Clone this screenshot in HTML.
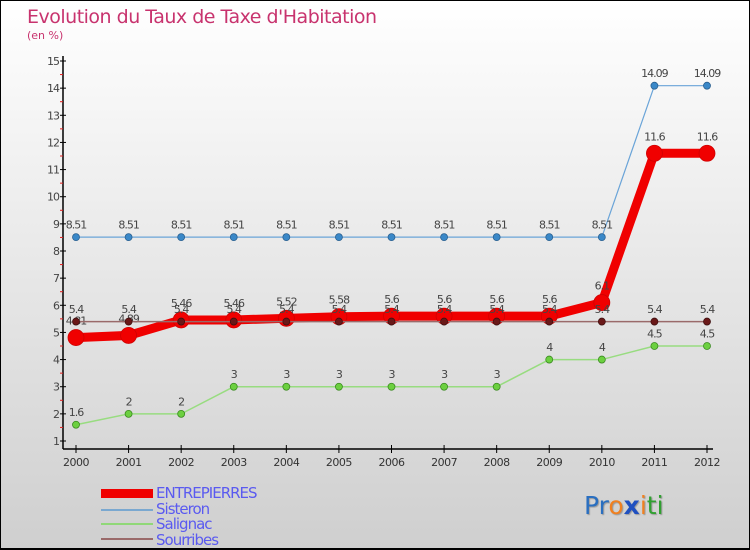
<!DOCTYPE html>
<html><head><meta charset="utf-8"><style>
body{margin:0}
#wrap{position:relative;width:750px;height:550px;box-sizing:border-box;border:1px solid #000;border-bottom:2px solid #000;background:linear-gradient(#ffffff,#cfcfcf);font-family:"DejaVu Sans","Liberation Sans",sans-serif;overflow:hidden}
.t{position:absolute;color:#c8336e}
.leg{position:absolute;left:155px;color:#5a5af0;font-size:15px;letter-spacing:-1px;line-height:15px}
.sw{position:absolute;left:100px;width:52px}
</style></head><body>
<div id="wrap">
<div class="t" style="left:26px;top:5px;font-size:19px;letter-spacing:-0.5px">Evolution du Taux de Taxe d'Habitation</div>
<div class="t" style="left:26px;top:28px;font-size:11px">(en %)</div>
<svg id="c" width="750" height="550" style="position:absolute;left:0;top:0"></svg>
<div class="sw" style="top:488px;height:9px;background:#f00000"></div>
<div class="sw" style="top:508px;height:2px;background:#7aa8d0"></div>
<div class="sw" style="top:522px;height:2px;background:#90d878"></div>
<div class="sw" style="top:537px;height:2px;background:#9a6a6a"></div>
<div class="leg" style="top:485px">ENTREPIERRES</div>
<div class="leg" style="top:501px">Sisteron</div>
<div class="leg" style="top:516px">Salignac</div>
<div class="leg" style="top:532px">Sourribes</div>
<div style="position:absolute;left:583px;top:490px;font-size:25px;font-family:'DejaVu Sans',sans-serif;text-shadow:1px 1px 1px #999"><span style="color:#2a6fc0">Pr</span><span style="color:#f08020">o</span><span style="color:#2050c0;font-weight:bold">x</span><span style="color:#f08020">i</span><span style="color:#30a030">ti</span></div>
</div>
<script>
const years=[2000,2001,2002,2003,2004,2005,2006,2007,2008,2009,2010,2011,2012];
const entrepierres=[4.81,4.89,5.46,5.46,5.52,5.58,5.6,5.6,5.6,5.6,6.1,11.6,11.6];
const sisteron=[8.51,8.51,8.51,8.51,8.51,8.51,8.51,8.51,8.51,8.51,8.51,14.09,14.09];
const salignac=[1.6,2,2,3,3,3,3,3,3,4,4,4.5,4.5];
const sourribes=[5.4,5.4,5.4,5.4,5.4,5.4,5.4,5.4,5.4,5.4,5.4,5.4,5.4];
const yTicks=[1,2,3,4,5,6,7,8,9,10,11,12,13,14,15];
const NS="http://www.w3.org/2000/svg";
const svg=document.getElementById('c');
const X=i=>75+i*(706-75)/(years.length-1);
const Y=v=>60+(15-v)*(440-60)/14;
function el(t,a,p){const e=document.createElementNS(NS,t);for(const k in a)e.setAttribute(k,a[k]);(p||svg).appendChild(e);return e;}
// axes
let ax=el('line',{x1:62,y1:55,x2:62,y2:448,stroke:'#000','stroke-width':1.5});


let xa=el('line',{x1:62,y1:448,x2:712,y2:448,stroke:'#000','stroke-width':1.5});


yTicks.forEach(v=>{
  el('line',{x1:59,y1:Y(v),x2:65,y2:Y(v),stroke:'#000'});
  if(v<15)el('line',{x1:59,y1:Y(v+0.5),x2:62,y2:Y(v+0.5),stroke:'#e02020'});
  const t=el('text',{x:58,y:Y(v)+4,'text-anchor':'end','font-size':11,fill:'#444','letter-spacing':'-1'});
  t.textContent=v;
  
  
});
years.forEach((yr,i)=>{
  el('line',{x1:X(i),y1:444,x2:X(i),y2:452,stroke:'#000'});
  const t=el('text',{x:X(i),y:465,'text-anchor':'middle','font-size':11,fill:'#333','letter-spacing':'-0.5'});
  t.textContent=yr;
  
  
});
function series(name,vals,color,w,r,dot,stroke){
  const g=el('g',{});
  
  
  el('polyline',{points:vals.map((v,i)=>X(i)+','+Y(v)).join(' '),fill:'none',stroke:color,'stroke-width':w,'stroke-linejoin':'round'},g);
  vals.forEach((v,i)=>{
    const c=el('circle',{cx:X(i),cy:Y(v),r:r,fill:dot,stroke:stroke,'stroke-width':0.8},g);
    
    
    const t=el('text',{x:X(i),y:Y(v)-(r+5),'text-anchor':'middle','font-size':11,fill:'#444','letter-spacing':'-1'},g);
    t.textContent=v;
    
    
  });
}
series('sisteron',sisteron,'#6aa4d8',1.2,3.5,'#3a88c8','#2a6090');
series('salignac',salignac,'#98dc80',1.5,3.5,'#6cd040','#3a8a20');
series('entrepierres',entrepierres,'#f00000',9,8,'#f00000','#d00000');
series('sourribes',sourribes,'#9a6a6a',1.5,3.5,'#6a1818','#401010');
</script>
</body></html>
